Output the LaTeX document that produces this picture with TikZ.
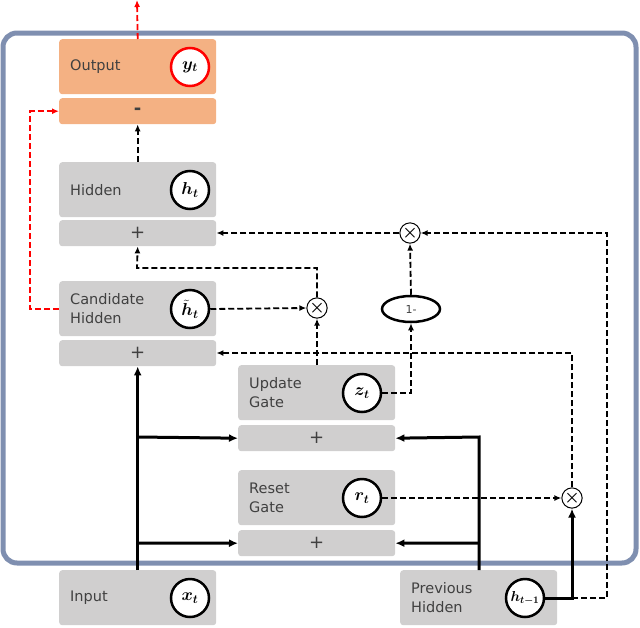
\documentclass[tikz,border=0pt]{standalone}
\usepackage{amsmath,amssymb,bm}
\usepackage{fontspec}
\setmainfont{DejaVu Sans}
\usetikzlibrary{arrows.meta,shapes.geometric}
\definecolor{frame}{HTML}{7F8FB0}
\definecolor{boxgray}{HTML}{D0CFCF}
\definecolor{boxorange}{HTML}{F4B183}
\definecolor{txt}{HTML}{404040}
\tikzset{
  box/.style={fill=boxgray,rounded corners=3pt,anchor=north west,minimum width=157pt,inner sep=0pt},
  big/.style={box,minimum height=55pt},
  bar/.style={box,minimum height=26pt,font=\fontsize{18}{18}\selectfont\color{txt}},
  lbl/.style={anchor=west,align=left,font=\fontsize{14.5}{19}\selectfont\color{txt},inner sep=0pt},
  var/.style={circle,draw,line width=2.5pt,fill=white,minimum size=38pt,inner sep=0pt,font=\fontsize{17}{17}\selectfont},
  mul/.style={circle,draw,line width=1pt,fill=white,minimum size=18pt,inner sep=0pt,font=\fontsize{18}{18}\selectfont},
  dsh/.style={dash pattern=on 6pt off 3pt,line width=1.8pt,-{Latex[length=7pt,width=6pt]}},
  sol/.style={line width=3pt,-{Latex[length=9pt,width=8pt]}}
}
\begin{document}
\begin{tikzpicture}[x=1pt,y=-1pt]
\useasboundingbox (0,0) rectangle (640,627);
\draw[frame,line width=5pt,rounded corners=14pt] (3,33) rectangle (636,563);
% boxes
\node[big,fill=boxorange] (out) at (59,39) {};
\node[bar,fill=boxorange] (outbar) at (59,98) {\textbf{-}};
\node[big] (hid) at (59,162) {};
\node[bar] (hidbar) at (59,220) {+};
\node[big] (cand) at (59,281) {};
\node[bar] (candbar) at (59,340) {+};
\node[big] (upd) at (238,365) {};
\node[bar] (updbar) at (238,425) {+};
\node[big] (rst) at (238,470) {};
\node[bar] (rstbar) at (238,530) {+};
\node[big] (inp) at (59,570) {};
\node[big] (prev) at (400,570) {};
% labels
\node[lbl] (outl) at (70,67) {Output};
\node[lbl] (hidl) at (70,190) {Hidden};
\node[lbl] (candl) at (70,309) {Candidate\\Hidden};
\node[lbl] (updl) at (249,393) {Update\\Gate};
\node[lbl] (rstl) at (249,498) {Reset\\Gate};
\node[lbl] (inpl) at (70,598) {Input};
\node[lbl] (prevl) at (411,598) {Previous\\Hidden};
% variables
\node[var,draw=red] (y) at (190,67) {$\bm{y_t}$};
\node[var] (h) at (190,190) {$\bm{h_t}$};
\node[var] (ht) at (190,309) {$\bm{\tilde{h}_t}$};
\node[var] (z) at (362,393) {$\bm{z_t}$};
\node[var] (r) at (362,498) {$\bm{r_t}$};
\node[var] (x) at (190,598) {$\bm{x_t}$};
\node[var,font=\fontsize{14}{14}\selectfont] (hp) at (525,598) {$\bm{h_{t-1}}$};
% operators
\node[mul] (m1) at (317,308) {$\bm{\times}$};
\node[mul] (m2) at (410,233) {$\bm{\times}$};
\node[mul] (m3) at (572,498) {$\bm{\times}$};
\node[ellipse,draw,line width=2.5pt,fill=white,minimum width=58pt,minimum height=26pt,inner sep=0pt,font=\fontsize{11}{11}\selectfont\color{txt}] (one) at (411,309) {1-};
\coordinate (top) at (137,0);
\coordinate (lft) at (30,0);
% red connectors
\draw[dsh,red] (out.north) -- (top);
\draw[dsh,red] (cand.west) -- (lft |- cand.west) -- (lft |- outbar.west) -- (outbar.west);
% dashed connectors
\draw[dsh] (hid.north) -- (outbar.south);
\draw[dsh] (ht.east) -- (m1.west);
\draw[dsh] (m1.north) -- (317,268) -- (137,268) -- (hidbar.south);
\draw[dsh] (upd.north -| m1) -- (m1.south);
\draw[dsh] (z.east) -- (411,393) -- (one.south);
\draw[dsh] (one.north) -- (m2.south);
\draw[dsh] (m2.west) -- (hidbar.east |- m2);
\draw[dsh] (572,598) -- (607,598) -- (607,233) -- (m2.east);
\draw[dsh] (m3.north) -- (572,353) -- (candbar.east |- 0,353);
\draw[dsh] (r.east) -- (m3.west);
% solid connectors
\draw[sol] (inp.north) -- (candbar.south);
\draw[sol] (137,437) -- (updbar.west);
\draw[sol] (137,543) -- (rstbar.west);
\draw[sol] (479,570) -- (479,437) -- (updbar.east);
\draw[sol] (479,543) -- (rstbar.east);
\draw[sol] (hp.east) -- (572,598) -- (m3.south);
\end{tikzpicture}
\end{document}
